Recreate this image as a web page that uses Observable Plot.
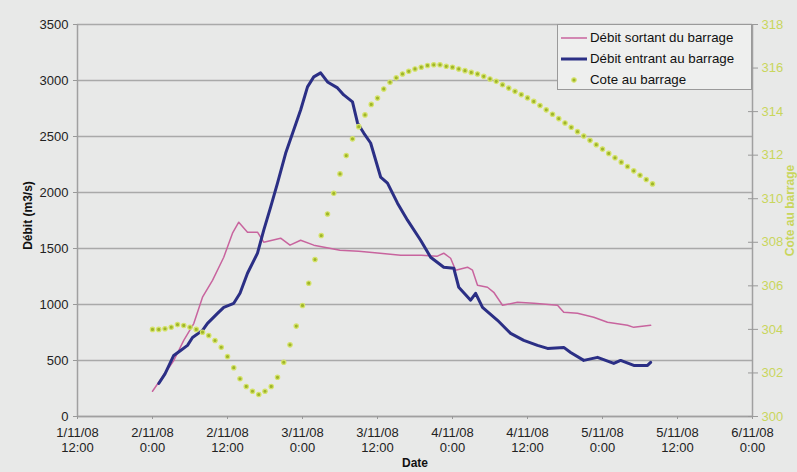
<!DOCTYPE html>
<html>
<head>
<meta charset="utf-8">
<script src="https://cdn.jsdelivr.net/npm/d3@7"></script>
<script src="https://cdn.jsdelivr.net/npm/@observablehq/plot@0.6"></script>
<style>
  html, body { margin: 0; padding: 0; background: #e8e9e8; }
  #wrap { position: relative; width: 797px; height: 472px; font-family: "Liberation Sans", Arial, sans-serif; }
  #legend { position: absolute; left: 557px; top: 24px; width: 195px; height: 66px; padding-top: 2px; background: #eeefee; border: 1px solid #9a9a9a; box-sizing: border-box; font-size: 13.3px; color: #111; }
  #legend .row { display: flex; align-items: center; height: 21px; padding-left: 2px; white-space: nowrap; }
  #legend svg { margin-right: 2px; }
</style>
</head>
<body>
<div id="wrap"></div>
<script>
// ---- data (hours counted from 2/11/08 0:00) ----
const seriesNames = ["Débit sortant du barrage", "Débit entrant au barrage", "Cote au barrage"];

const hoursOut = [0, 3.4, 5, 6.6, 8, 9.6, 11.4, 12.8, 13.8, 15.2, 16.8, 17.8, 20.5, 22, 23.7, 25.8, 30, 33, 36, 39.7, 43, 45.5, 46.6, 47.7, 48.5, 50.4, 51.2, 52, 53.6, 54.6, 56, 58.4, 61, 64.8, 65.8, 68, 70.6, 72.8, 76, 77, 79.7];
const debitSortant = [225, 500, 680, 830, 1065, 1216, 1422, 1637, 1735, 1646, 1646, 1556, 1592, 1530, 1574, 1530, 1485, 1475, 1460, 1440, 1440, 1430, 1458, 1413, 1306, 1333, 1306, 1172, 1154, 1109, 993, 1020, 1011, 993, 930, 921, 886, 841, 814, 796, 814];

const hoursIn = [1, 2, 3.4, 4.5, 5.6, 6.4, 8, 8.8, 10.4, 11.4, 13, 14, 15.2, 16.8, 17.8, 18.9, 20, 21.3, 23.7, 24.8, 25.8, 26.9, 28, 29.6, 30.6, 32, 32.8, 33.8, 34.9, 36.5, 37.6, 39.2, 40.8, 42.9, 44.5, 46.6, 48.2, 49, 50.9, 51.7, 52.8, 55.2, 57.3, 59.4, 61.6, 63.2, 65.8, 66.9, 69, 71.2, 73.8, 74.9, 77, 79.2, 79.7];
const debitEntrant = [295, 380, 545, 590, 635, 706, 769, 832, 921, 975, 1011, 1100, 1279, 1458, 1664, 1870, 2084, 2350, 2737, 2943, 3032, 3068, 2987, 2934, 2871, 2809, 2621, 2531, 2442, 2138, 2084, 1905, 1753, 1574, 1422, 1333, 1324, 1154, 1038, 1100, 975, 859, 742, 680, 635, 608, 617, 572, 501, 528, 474, 501, 456, 456, 483];

const coteHours = [0,1,2,3,4,5,6,7,8,9,10,11,12,13,14,15,16,17,18,19,20,21,22,23,24,25,26,27,28,29,30,31,32,33,34,35,36,37,38,39,40,41,42,43,44,45,46,47,48,49,50,51,52,53,54,55,56,57,58,59,60,61,62,63,64,65,66,67,68,69,70,71,72,73,74,75,76,77,78,79,80];
const cote = [304.0, 304.0, 304.03, 304.1, 304.22, 304.18, 304.1, 304.0, 303.87, 303.72, 303.49, 303.18, 302.75, 302.24, 301.73, 301.38, 301.16, 301.01, 301.16, 301.38, 301.8, 302.49, 303.29, 304.15, 305.1, 306.12, 307.21, 308.31, 309.3, 310.25, 311.14, 311.98, 312.75, 313.31, 313.85, 314.33, 314.62, 315.04, 315.35, 315.55, 315.73, 315.85, 315.96, 316.04, 316.12, 316.15, 316.15, 316.08, 316.04, 315.96, 315.88, 315.8, 315.73, 315.62, 315.5, 315.39, 315.23, 315.08, 314.93, 314.78, 314.63, 314.47, 314.28, 314.08, 313.88, 313.68, 313.48, 313.28, 313.08, 312.88, 312.68, 312.48, 312.28, 312.08, 311.88, 311.68, 311.48, 311.28, 311.08, 310.88, 310.68];

const leftTicks = [0, 500, 1000, 1500, 2000, 2500, 3000, 3500];
const rightTicks = [300, 302, 304, 306, 308, 310, 312, 314, 316, 318];
const xTickTimes = ["2008-11-01T12:00Z", "2008-11-02T00:00Z", "2008-11-02T12:00Z", "2008-11-03T00:00Z", "2008-11-03T12:00Z", "2008-11-04T00:00Z", "2008-11-04T12:00Z", "2008-11-05T00:00Z", "2008-11-05T12:00Z", "2008-11-06T00:00Z"];
const xTickLabels = ["1/11/08\n12:00", "2/11/08\n0:00", "2/11/08\n12:00", "3/11/08\n0:00", "3/11/08\n12:00", "4/11/08\n0:00", "4/11/08\n12:00", "5/11/08\n0:00", "5/11/08\n12:00", "6/11/08\n0:00"];

// ---- build tables ----
const base = Date.UTC(2008, 10, 2, 0);
const toDate = h => new Date(base + h * 3600e3);
const outData = hoursOut.map((h, i) => ({t: toDate(h), v: debitSortant[i]}));
const inData = hoursIn.map((h, i) => ({t: toDate(h), v: debitEntrant[i]}));
const coteData = coteHours.map((h, i) => ({t: toDate(h), c: cote[i]}));
const yMax = 3500, cMin = 300, cMax = 318;
const coteToY = c => (c - cMin) / (cMax - cMin) * yMax;
const yToCote = y => String(Math.round(cMin + y / yMax * (cMax - cMin)));
const xTicks = xTickTimes.map(s => new Date(s));
const labelOf = new Map(xTicks.map((d, i) => [+d, xTickLabels[i]]));
const xDomain = [xTicks[0], xTicks[xTicks.length - 1]];

const green = "#c9d65c";
const pink = "#c8649e";
const blue = "#2b2f85";

const chart = Plot.plot({
  width: 797,
  height: 472,
  marginLeft: 77,
  marginRight: 45,
  marginTop: 24,
  marginBottom: 56,
  style: {background: "#e8e9e8", fontFamily: "'Liberation Sans', Arial, sans-serif", color: "#222"},
  x: {type: "utc", domain: xDomain},
  y: {domain: [0, yMax]},
  marks: [
    Plot.gridY(leftTicks, {stroke: "#a9a9a9", strokeOpacity: 1, strokeWidth: 1.6}),
    Plot.ruleX([xDomain[0]], {stroke: "#a0a0a0", strokeWidth: 1.5}),
    Plot.ruleX([xDomain[1]], {stroke: "#a0a0a0", strokeWidth: 1.5}),
    Plot.ruleY([0], {stroke: "#a0a0a0", strokeWidth: 1.5}),
    Plot.axisY(leftTicks, {anchor: "left", tickSize: 4, tickFormat: d => String(d), stroke: "#999", fill: "#222", fontSize: 13, label: null}),
    Plot.axisY(rightTicks.map(coteToY), {anchor: "right", tickSize: 5, tickFormat: yToCote, stroke: "#999", fill: green, fontSize: 13, label: null}),
    Plot.axisY(rightTicks.map(coteToY), {anchor: "right", tickSize: -5, tickFormat: () => "", stroke: "#999", label: null}),
    Plot.axisX(xTicks, {anchor: "bottom", tickSize: 3, tickFormat: d => labelOf.get(+d), stroke: "#999", fill: "#222", fontSize: 13, lineHeight: 1.2, label: null}),
    Plot.line(outData, {x: "t", y: "v", stroke: pink, strokeWidth: 1.5}),
    Plot.line(inData, {x: "t", y: "v", stroke: blue, strokeWidth: 3}),
    Plot.dot(coteData, {x: "t", y: d => coteToY(d.c), r: 2.2, fill: "#9fb52a", stroke: "#d5e36a", strokeWidth: 1.2}),
    Plot.text(["Débit (m3/s)"], {frameAnchor: "left", textAnchor: "middle", dx: -49, dy: -5, rotate: -90, fontWeight: "bold", fontSize: 12, fill: "#111"}),
    Plot.text(["Date"], {frameAnchor: "bottom", dy: 50, fontWeight: "bold", fontSize: 12, fill: "#111"}),
    Plot.text(["Cote au barrage"], {frameAnchor: "right", textAnchor: "middle", dx: 38, dy: -10, rotate: -90, fontWeight: "bold", fontSize: 12, fill: green})
  ]
});

const wrap = document.getElementById("wrap");
wrap.appendChild(chart);

// legend overlay
const legend = document.createElement("div");
legend.id = "legend";
const swatches = [
  `<svg width="28" height="10"><line x1="1" x2="27" y1="5" y2="5" stroke="${pink}" stroke-width="1.5"/></svg>`,
  `<svg width="28" height="10"><line x1="1" x2="27" y1="5" y2="5" stroke="${blue}" stroke-width="3"/></svg>`,
  `<svg width="28" height="10"><circle cx="14" cy="5" r="2.2" fill="#9fb52a" stroke="#d5e36a" stroke-width="1.2"/></svg>`
];
legend.innerHTML = seriesNames.map((n, i) => `<div class="row">${swatches[i]}<span>${n}</span></div>`).join("");
wrap.appendChild(legend);
</script>
</body>
</html>
